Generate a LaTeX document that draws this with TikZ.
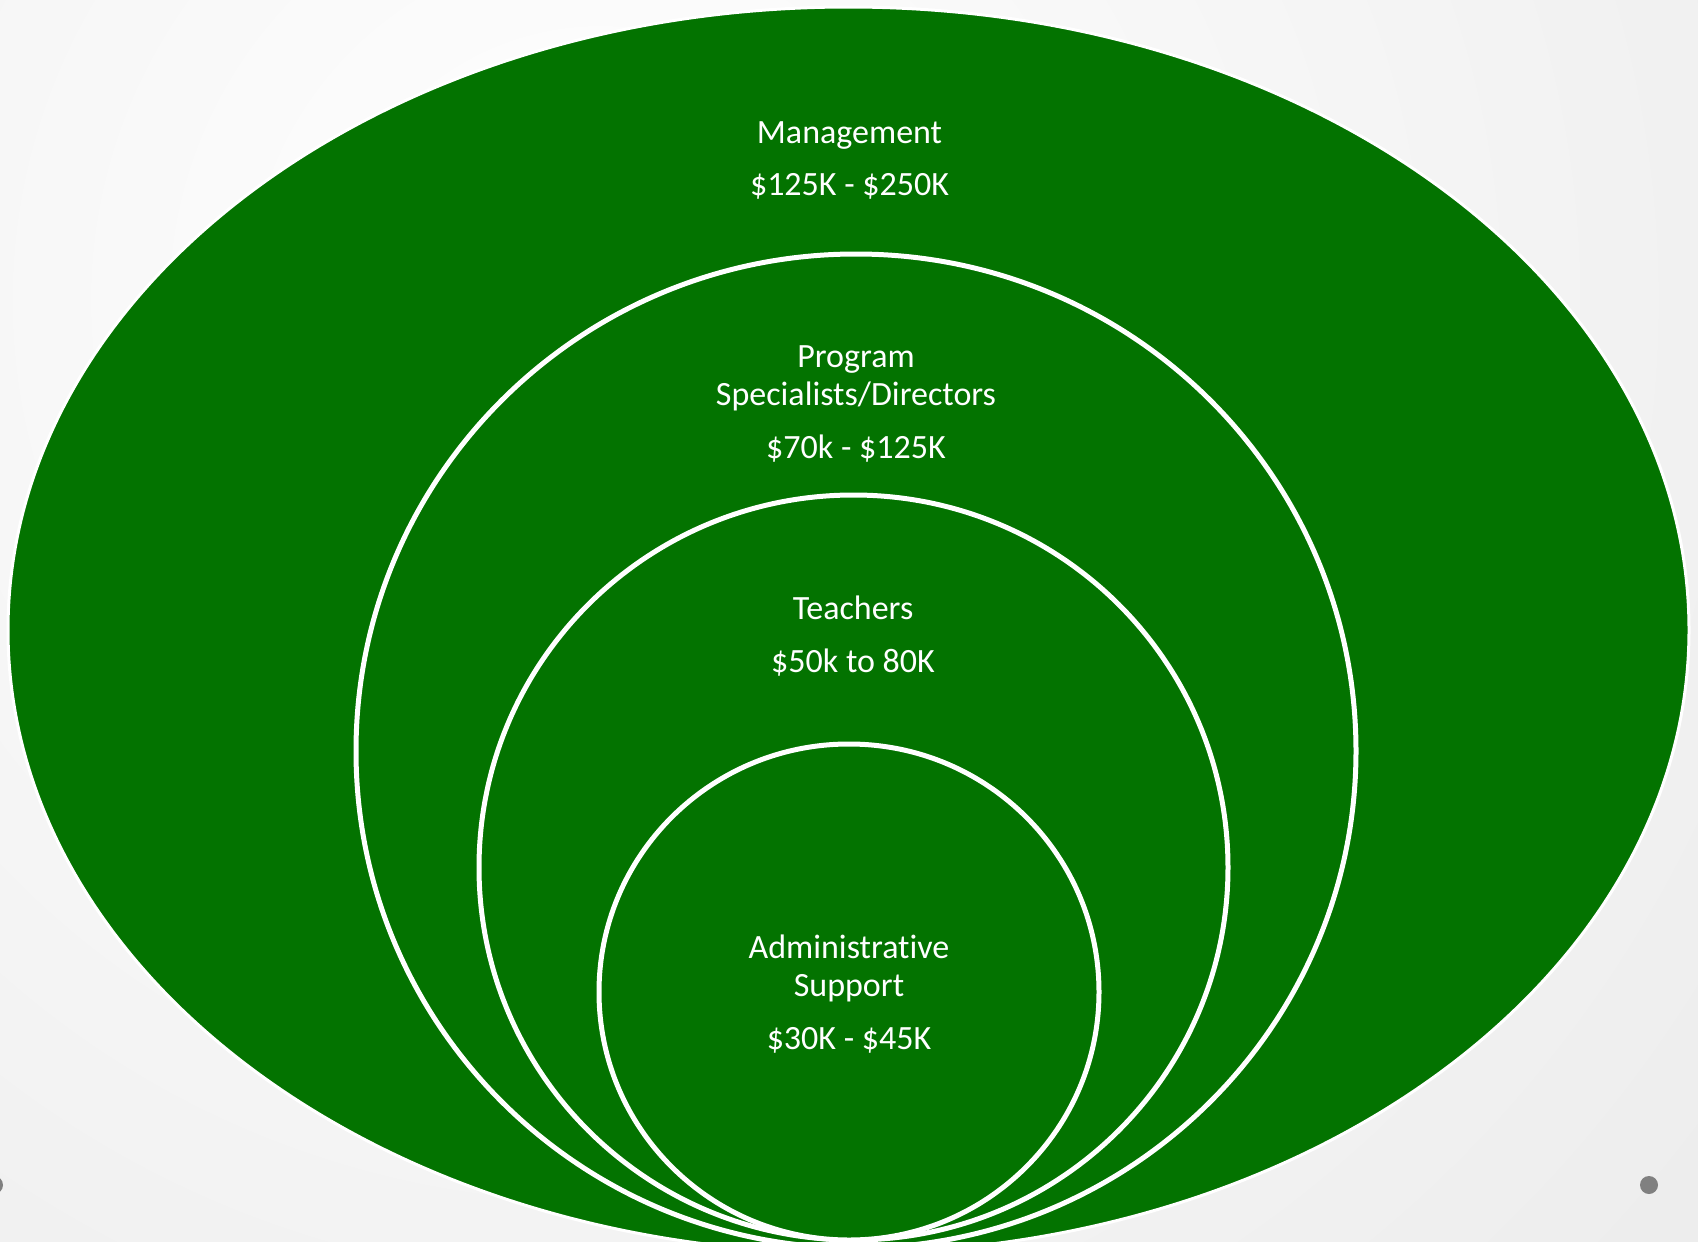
\documentclass[tikz,border=0pt]{standalone}
\usepackage{fontspec}
\setmainfont{Carlito}[RawFeature={-liga;-clig;-calt;-dlig}]
\definecolor{ringgreen}{RGB}{3,115,0}
\definecolor{dotgray}{RGB}{128,128,128}
\tikzset{
  ring/.style={fill=ringgreen, draw=white, line width=5pt},
  outerring/.style={fill=ringgreen, draw=white, line width=3pt},
  lbl/.style={anchor=base, text=white, inner sep=0pt, font=\fontsize{34}{38}\selectfont},
  pagedot/.style={fill=dotgray, draw=none}
}
\begin{document}
\begin{tikzpicture}[x=1pt,y=-1pt]
\useasboundingbox (0,0) rectangle (1698,1242);
\clip (0,0) rectangle (1698,1242);
% background
\shade[inner color=white, outer color={rgb,255:red,218;green,218;blue,218}] (600,300) circle [radius=2900];
% page dots
\fill[pagedot] (1649,1185) circle [radius=9];
\fill[pagedot] (-6,1185) circle [radius=9];
% rings
\path[outerring] (848.5,630) ellipse [x radius=840.5, y radius=623];
\path[ring] (856,751) ellipse [x radius=500, y radius=497];
\path[ring] (853.5,867.5) ellipse [x radius=374.5, y radius=372.5];
\path[ring] (849,992) ellipse [x radius=250, y radius=248];
% labels
\node[lbl] (m1) at (849.5,143) {Management};
\node[lbl] (m2) at (849.5,195) {\$125K - \$250K};
\node[lbl] (p1) at (856,367) {Program};
\node[lbl] (p2) at (856,405) {Specialists/Directors};
\node[lbl] (p3) at (856,458) {\$70k - \$125K};
\node[lbl] (t1) at (853,619) {Teachers};
\node[lbl] (t2) at (853,672) {\$50k to 80K};
\node[lbl] (a1) at (849,958) {Administrative};
\node[lbl] (a2) at (849,996) {Support};
\node[lbl] (a3) at (849,1049) {\$30K - \$45K};
\end{tikzpicture}
\end{document}
